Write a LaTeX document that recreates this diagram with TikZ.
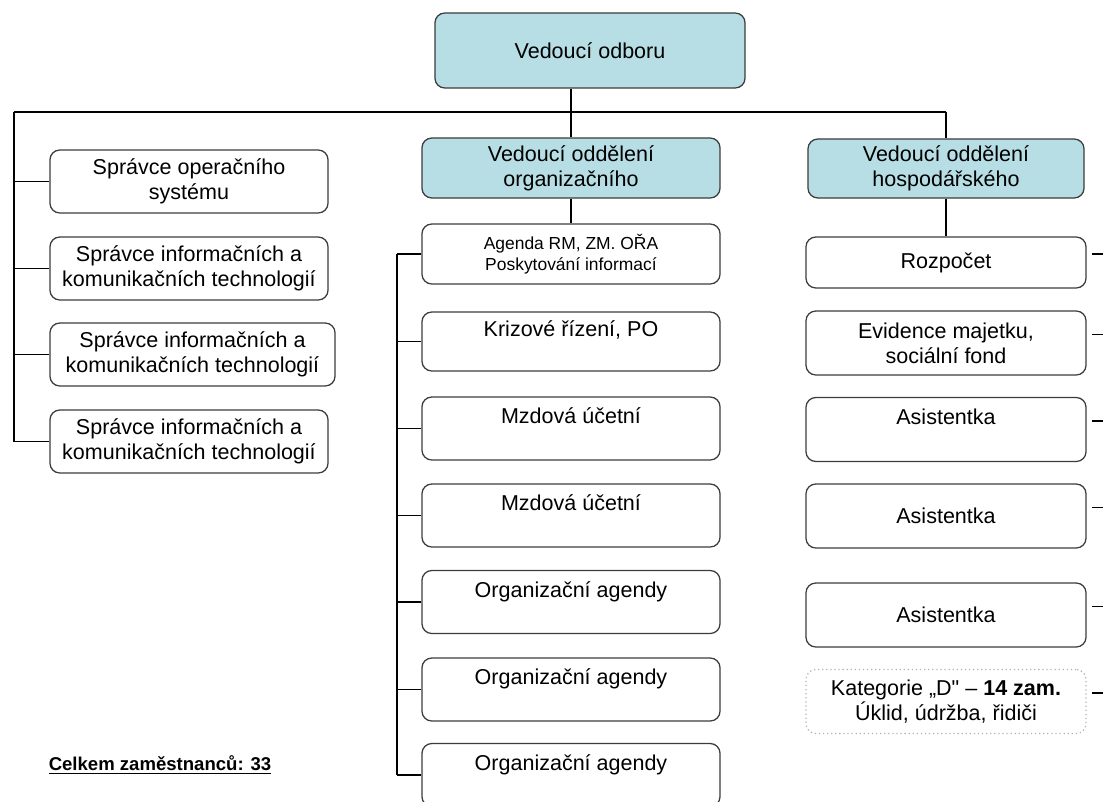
\documentclass[tikz,border=0pt]{standalone}
\usepackage{fontspec}
\setmainfont{Liberation Sans}
\definecolor{headfill}{RGB}{183,222,228}
\definecolor{boxline}{RGB}{60,60,60}

\begin{document}
\begin{tikzpicture}[x = 0.025cm, y = -0.025cm,
		box/.style = {draw = boxline, line width = 0.9pt, rounded corners = 7pt, fill = white, align = center, inner sep = 0pt, font = \fontsize{15.3}{18}\selectfont},
		head/.style = {box, fill = headfill},
		leftbox/.style = {box, minimum width = 6.95cm, minimum height = 1.575cm},
		midbox/.style = {box, minimum width = 7.45cm, minimum height = 1.575cm},
		rightbox/.style = {box, minimum width = 7cm, minimum height = 1.6cm},
		bus/.style = {line width = 2.1pt},
		link/.style = {line width = 1.1pt}]
		\useasboundingbox (0,0) rectangle (1103,801);
		\clip (0,0) rectangle (1103,801);

		\node [head, minimum width = 7.75cm, minimum height = 1.875cm] (odbor) at (590,50.5) {Vedoucí odboru};
		\node [head, minimum width = 7.45cm, minimum height = 1.5cm] (organ) at (571,168) {Vedoucí oddělení\\organizačního};
		\node [head, minimum width = 6.9cm, minimum height = 1.475cm] (hosp) at (946,168.5) {Vedoucí oddělení\\hospodářského};

		\node [leftbox] (spravceOS) at (189,181.5) {Správce operačního\\systému};
		\node [leftbox] (spravceIT1) at (189,268.5) {Správce informačních a\\komunikačních technologií};
		\node [leftbox, minimum width = 7.125cm] (spravceIT2) at (192.5,354.5) {Správce informačních a\\komunikačních technologií};
		\node [leftbox] (spravceIT3) at (189,441.5) {Správce informačních a\\komunikačních technologií};

		\node [midbox, minimum height = 1.5cm, font = \fontsize{12.4}{15}\selectfont] (agenda) at (571,254) {Agenda RM, ZM. OŘA\\Poskytování informací};
		\node [midbox, minimum height = 1.475cm] (krize) at (571,341.5) {Krizové řízení, PO\\~};
		\node [midbox] (mzdy1) at (571,428.5) {Mzdová účetní\\~};
		\node [midbox] (mzdy2) at (571,515.5) {Mzdová účetní\\~};
		\node [midbox] (agendy1) at (571,602) {Organizační agendy\\~};
		\node [midbox] (agendy2) at (571,689.5) {Organizační agendy\\~};
		\node [midbox] (agendy3) at (571,775) {Organizační agendy\\~};

		\node [rightbox, minimum height = 1.275cm] (rozpocet) at (946,262.5) {Rozpočet};
		\node [rightbox] (majetek) at (946,343) {Evidence majetku,\\sociální fond};
		\node [rightbox] (asist1) at (946,429.5) {Asistentka\\~};
		\node [rightbox] (asist2) at (946,516) {Asistentka};
		\node [rightbox] (asist3) at (946,615) {Asistentka};
		\node [rightbox, draw = gray!60, dotted] (uklid) at (946,701.5) {Kategorie „D\textquotedbl{} – \textbf{14 zam.}\\Úklid, údržba, řidiči};

		\node [font = \fontsize{13.2}{16}\selectfont\bfseries] (celkem) at (160,765) {\underline{Celkem zaměstnanců: 33}};

		\coordinate (busL) at (14,112);
		\coordinate (busM) at (397,248);
		\draw [bus] (busL) -- (busL -| hosp.north);
		\draw [link] (odbor.south -| organ.north) -- (organ.north);
		\draw [link] (busL -| hosp.north) -- (hosp.north);
		\draw [bus] (busL) -- (busL |- spravceIT3.west);
		\foreach \n in {spravceOS, spravceIT1, spravceIT2, spravceIT3}
			\draw [link] (\n.west) -- (\n.west -| busL);
		\draw [link] (organ.south) -- (agenda.north);
		\draw [bus] (agenda.west -| busM) -- (agendy3.west -| busM);
		\foreach \n in {agenda, krize, mzdy1, mzdy2, agendy1, agendy2, agendy3}
			\draw [link] (\n.west) -- (\n.west -| busM);
		\draw [link] (hosp.south) -- (rozpocet.north);
		\foreach \n in {rozpocet, majetek, asist1, asist2, asist3, uklid}
			\draw [link] ([xshift = 4pt, yshift = 6pt] \n.east) -- ++(14,0);
	\end{tikzpicture}
\end{document}
